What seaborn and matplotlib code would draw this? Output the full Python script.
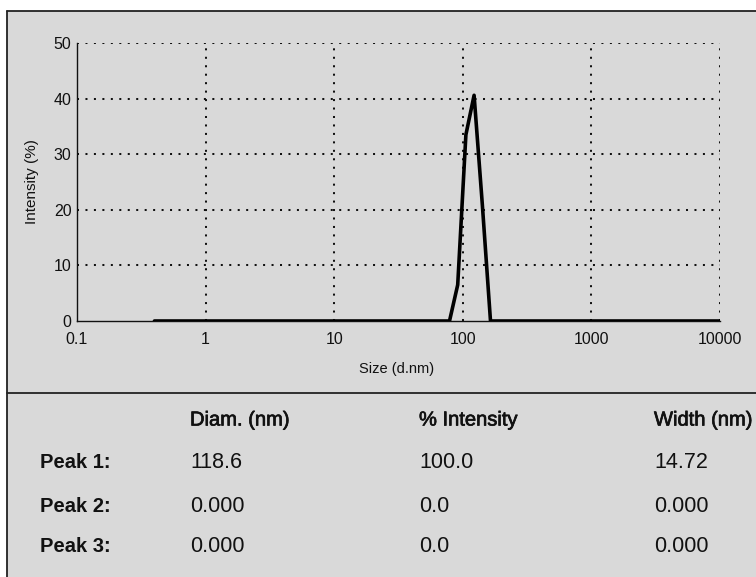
import matplotlib
matplotlib.use("Agg")
import matplotlib.pyplot as plt
import matplotlib.ticker as mticker
from matplotlib.lines import Line2D
from matplotlib.patches import Rectangle
import matplotlib.patheffects as pe
import seaborn as sns
import pandas as pd

# ---- data ----
size_nm = [0.4, 78.82, 91.28, 105.7, 122.4, 141.8, 164.2, 10000]
intensity_pct = [0.0, 0.0, 6.5, 33.5, 40.6, 21.0, 0.0, 0.0]

x_ticks = [0.1, 1, 10, 100, 1000, 10000]
x_tick_labels = ["0.1", "1", "10", "100", "1000", "10000"]
y_ticks = [0, 10, 20, 30, 40, 50]

table_header = ["Diam. (nm)", "% Intensity", "Width (nm)"]
peak_names = ["Peak 1:", "Peak 2:", "Peak 3:"]
peak_diam = ["118.6", "0.000", "0.000"]
peak_int = ["100.0", "0.0", "0.0"]
peak_width = ["14.72", "0.000", "0.000"]

sns.set_style("white")
plt.rcParams["font.family"] = ["Liberation Sans", "DejaVu Sans"]

W, H = 756, 577
BG = "#d9d9d9"
fig = plt.figure(figsize=(W / 100, H / 100), dpi=100)
fig.patch.set_facecolor("white")

def fx(px):
    return px / W

def fy(py):
    return (H - py) / H

# panel background and borders
fig.add_artist(Rectangle((fx(7), 0), 1 - fx(7), fy(11), transform=fig.transFigure,
                         facecolor=BG, edgecolor="none", zorder=0))
fig.add_artist(Line2D([fx(7), fx(7)], [0, fy(11)], transform=fig.transFigure,
                      color="#222222", lw=1.3))
fig.add_artist(Line2D([fx(7), 1], [fy(11), fy(11)], transform=fig.transFigure,
                      color="#222222", lw=1.3))
fig.add_artist(Line2D([fx(7), 1], [fy(393), fy(393)], transform=fig.transFigure,
                      color="#222222", lw=1.3))

# axes
ax = fig.add_axes([fx(77), fy(321), fx(720) - fx(77), fy(43) - fy(321)])
ax.set_facecolor(BG)
df = pd.DataFrame({"size": size_nm, "intensity": intensity_pct})
sns.lineplot(data=df, x="size", y="intensity", ax=ax, color="black", lw=2.6,
             estimator=None, sort=True, zorder=5)
ax.set_xscale("log")
ax.set_xlim(0.1, 10000)
ax.set_ylim(0, 50)

ax.set_xticks(x_ticks)
ax.set_xticklabels(x_tick_labels)
ax.xaxis.set_minor_locator(mticker.LogLocator(base=10, subs=range(2, 10)))
ax.xaxis.set_minor_formatter(mticker.NullFormatter())
ax.set_yticks(y_ticks)
ax.yaxis.set_minor_locator(mticker.MultipleLocator(5))

for s in ["top", "right"]:
    ax.spines[s].set_visible(False)
for s in ["left", "bottom"]:
    ax.spines[s].set_color("#111111")
    ax.spines[s].set_linewidth(1.0)

ax.tick_params(axis="x", which="major", direction="inout", length=6, width=1,
               color="#111111", labelsize=11.5, pad=5, labelcolor="#111111")
ax.tick_params(axis="x", which="minor", direction="inout", length=3, width=1,
               color="#111111")
ax.tick_params(axis="y", which="major", direction="out", length=3, width=1,
               color="#111111", labelsize=11.5, pad=1, labelcolor="#111111")
ax.tick_params(axis="y", which="minor", direction="inout", length=6, width=1,
               color="#111111")

grid_kw = dict(color="#111111", lw=1.45, linestyle=(0, (1, 3.2)), zorder=1)
for xv in x_ticks[1:]:
    ax.axvline(xv, **grid_kw)
for yv in y_ticks[1:]:
    ax.axhline(yv, **grid_kw)

ax.set_xlabel("Size (d.nm)", fontsize=10.5, color="#111111")
ax.set_ylabel("Intensity (%)", fontsize=11, color="#111111")
ax.xaxis.set_label_coords((397 - 77) / 643, -(362 - 321) / 278)
ax.yaxis.set_label_coords(-(77 - 39) / 643, 0.5)

# table
col_x = [190, 419, 654]
head_y = 420
row_y = [463, 506, 547]
for cx, t in zip(col_x, table_header):
    fig.text(fx(cx), fy(head_y), t, fontsize=14.5, color="#111111", va="center", ha="left",
             path_effects=[pe.withStroke(linewidth=0.5, foreground="#111111")])
for ry, name, d, i, w in zip(row_y, peak_names, peak_diam, peak_int, peak_width):
    fig.text(fx(40), fy(ry), name, fontsize=14.5, fontweight="bold", color="#111111",
             va="center", ha="left")
    for cx, v in zip(col_x, [d, i, w]):
        fig.text(fx(cx), fy(ry), v, fontsize=15.5, color="#111111", va="center", ha="left")

fig.savefig("out.png", dpi=100, facecolor=fig.get_facecolor())
